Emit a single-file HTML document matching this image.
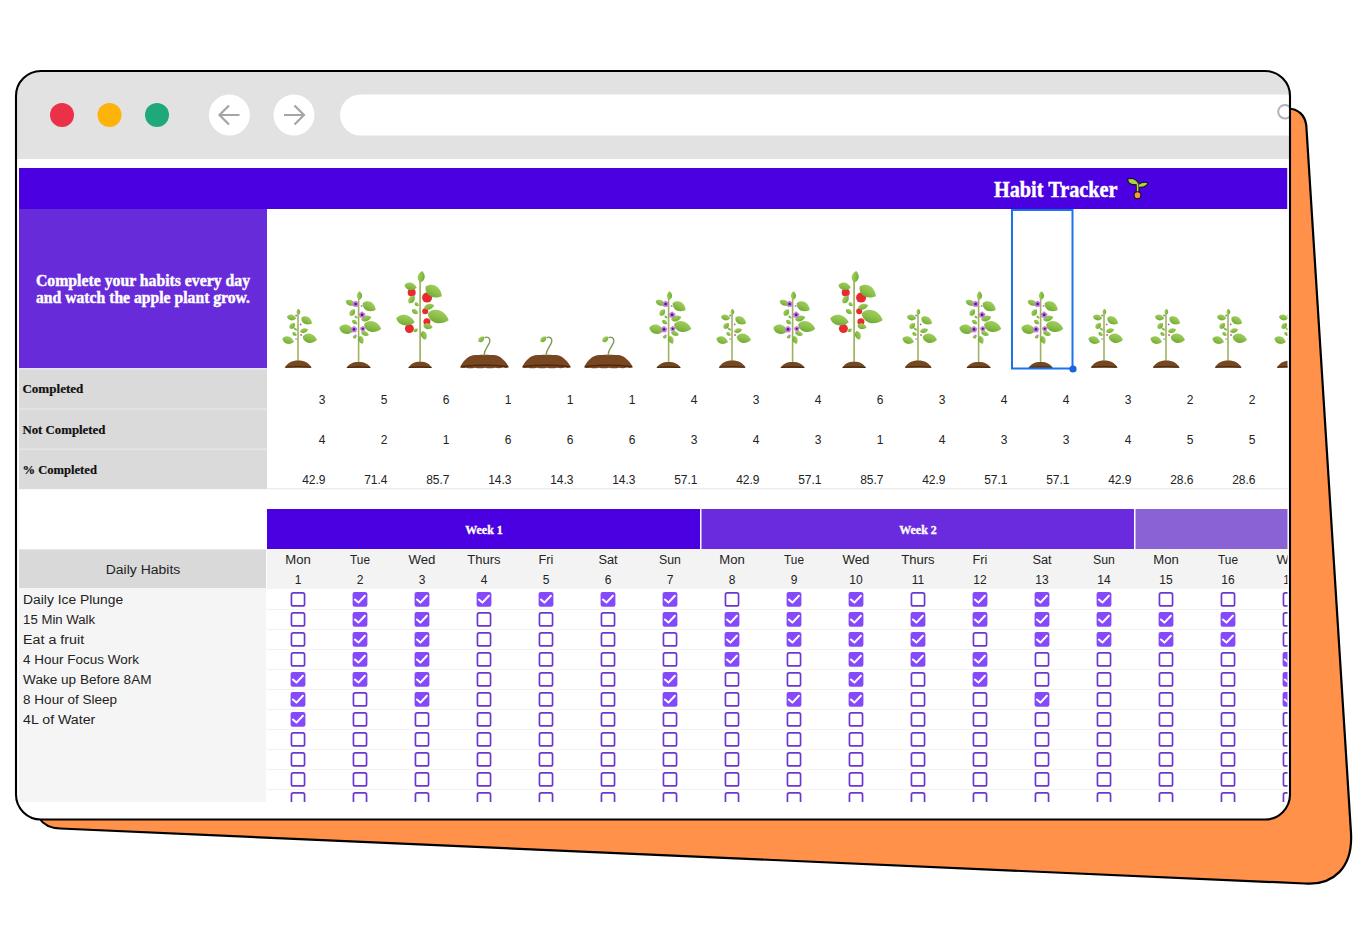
<!DOCTYPE html>
<html><head><meta charset="utf-8"><title>Habit Tracker</title>
<style>
html,body{margin:0;padding:0;background:#fff;}
body{width:1366px;height:950px;overflow:hidden;position:relative;}
svg{position:absolute;left:0;top:0;display:block;}
</style></head>
<body>
<svg width="1366" height="950" viewBox="0 0 1366 950">
<path d="M1200 108.5L1288 108.5C1298 108.8 1305 115 1306.3 125.5L1351 833C1353 868 1333 885.5 1305 883.5L60 828.5C50 828 43 824 39.5 818.5L39 700Z" fill="#ff914b" stroke="#000" stroke-width="2.2" stroke-linejoin="round"/>
<defs><clipPath id="fclip"><rect x="17" y="72" width="1272" height="746.5" rx="24"/></clipPath><clipPath id="cclip"><rect x="19" y="168" width="1268.5" height="634"/></clipPath><linearGradient id="lg" x1="0" y1="0" x2="0" y2="1"><stop offset="0" stop-color="#9fcd5c"/><stop offset="0.5" stop-color="#8cc04a"/><stop offset="1" stop-color="#72a936"/></linearGradient></defs>
<rect x="16" y="71" width="1274" height="748.5" rx="25" fill="#fff"/>
<g clip-path="url(#fclip)">
<rect x="17" y="72" width="1272" height="87" fill="#e2e2e2"/>
<circle cx="62" cy="115" r="12" fill="#ea3148"/>
<circle cx="109.5" cy="115" r="12" fill="#fdb309"/>
<circle cx="157" cy="115" r="12" fill="#1fa97b"/>
<circle cx="229.4" cy="115" r="20.5" fill="#fff"/>
<circle cx="294" cy="115" r="20.5" fill="#fff"/>
<path d="M239.5 115H219.5M229 105.5L219.5 115L229 124.5" stroke="#a5a5a5" stroke-width="2.2" fill="none"/>
<path d="M284 115H304M294.5 105.5L304 115L294.5 124.5" stroke="#a5a5a5" stroke-width="2.2" fill="none"/>
<rect x="340" y="94.5" width="1000" height="41" rx="20.5" fill="#fff"/>
<circle cx="1285" cy="111.7" r="6.8" stroke="#b3b3b3" stroke-width="2" fill="none"/>
</g>
<g clip-path="url(#cclip)">
<rect x="19" y="168" width="1268.5" height="41" fill="#4a00e0"/>
<text x="994" y="197" font-family="'Liberation Serif', 'DejaVu Serif', serif" font-weight="bold" font-size="22.5" fill="#fff" stroke="#fff" stroke-width="0.45" textLength="123.5" lengthAdjust="spacingAndGlyphs">Habit Tracker</text>
<g stroke="#1d0b2e" stroke-width="1.1" stroke-linejoin="round"><path d="M1137.5 183.5C1137.6 187 1137.8 189.5 1137.5 193" stroke-width="3.6" fill="none"/><path d="M1127.3 179.2C1131 177.9 1135.3 178.4 1137.9 182.2L1138.2 184.6C1134.5 185 1130.3 184.3 1128.6 182.3Z" fill="#a6d63c"/><path d="M1138.2 184.6C1140.8 182.6 1144.6 181.8 1148.1 182.7C1147.4 185.4 1144.9 187.2 1140.6 187.4L1138.2 187.2Z" fill="#a6d63c"/><path d="M1137.5 183.5C1137.6 187 1137.8 189.5 1137.5 193" stroke="#b5dd45" stroke-width="1.6" fill="none"/><circle cx="1137.5" cy="195.2" r="3.4" fill="#f39a36"/></g>
<rect x="19" y="209" width="248" height="160" fill="#672bda"/>
<text x="143" y="285.5" text-anchor="middle" font-family="'Liberation Serif', 'DejaVu Serif', serif" font-weight="bold" font-size="17" fill="#fff" stroke="#fff" stroke-width="0.45" textLength="214" lengthAdjust="spacingAndGlyphs">Complete your habits every day</text>
<text x="143" y="302.9" text-anchor="middle" font-family="'Liberation Serif', 'DejaVu Serif', serif" font-weight="bold" font-size="17" fill="#fff" stroke="#fff" stroke-width="0.45" textLength="214" lengthAdjust="spacingAndGlyphs">and watch the apple plant grow.</text>
<defs><g id="pA"><line x1="31" y1="104" x2="31" y2="152" stroke="#9db35e" stroke-width="1.6"/><path d="M-1 0C-0.65 -0.78 0.4 -0.8 1 0C0.4 0.8 -0.65 0.78 -1 0Z" fill="url(#lg)" transform="translate(31.4 102.8) rotate(-90) scale(3.04 3.15)"/><path d="M-1 0C-0.65 -0.78 0.4 -0.8 1 0C0.4 0.8 -0.65 0.78 -1 0Z" fill="url(#lg)" transform="translate(24.6 108.6) rotate(12) scale(4.73 4.91)"/><path d="M-1 0C-0.65 -0.78 0.4 -0.8 1 0C0.4 0.8 -0.65 0.78 -1 0Z" fill="url(#lg)" transform="translate(39.7 111.6) rotate(28) scale(6.04 6.39)"/><path d="M-1 0C-0.65 -0.78 0.4 -0.8 1 0C0.4 0.8 -0.65 0.78 -1 0Z" fill="url(#lg)" transform="translate(25.3 116.8) rotate(-50) scale(3.68 4.42)"/><path d="M-1 0C-0.65 -0.78 0.4 -0.8 1 0C0.4 0.8 -0.65 0.78 -1 0Z" fill="url(#lg)" transform="translate(28.6 120.2) rotate(35) scale(2.10 1.97)"/><path d="M-1 0C-0.65 -0.78 0.4 -0.8 1 0C0.4 0.8 -0.65 0.78 -1 0Z" fill="url(#lg)" transform="translate(37.1 121.7) rotate(-15) scale(4.20 3.93)"/><path d="M-1 0C-0.65 -0.78 0.4 -0.8 1 0C0.4 0.8 -0.65 0.78 -1 0Z" fill="url(#lg)" transform="translate(27.6 125.1) rotate(35) scale(2.62 2.95)"/><path d="M-1 0C-0.65 -0.78 0.4 -0.8 1 0C0.4 0.8 -0.65 0.78 -1 0Z" fill="url(#lg)" transform="translate(21.2 131.2) rotate(18) scale(6.04 6.39)"/><path d="M-1 0C-0.65 -0.78 0.4 -0.8 1 0C0.4 0.8 -0.65 0.78 -1 0Z" fill="url(#lg)" transform="translate(42.8 129.3) rotate(13) scale(7.35 7.86)"/><circle cx="29.1" cy="106.5" r="0.9" fill="#9a6ab8"/><circle cx="33.7" cy="115.4" r="0.9" fill="#9a6ab8"/><circle cx="34.1" cy="126" r="1.1" fill="#e06a9a"/><circle cx="29.1" cy="130" r="0.8" fill="#9a6ab8"/><path d="M17.7 158.8C20.9 153.8 24.4 151.6 31.2 151.6C38.0 151.6 41.5 153.8 44.7 158.8Z" fill="#764820"/><path d="M18.5 158.20000000000002Q31.2 157.20000000000002 43.9 158.20000000000002" stroke="#4a2a10" stroke-width="1.2" fill="none"/></g><g id="pB"><line x1="29.6" y1="89" x2="29.6" y2="153" stroke="#9db35e" stroke-width="1.6"/><path d="M-1 0C-0.65 -0.78 0.4 -0.8 1 0C0.4 0.8 -0.65 0.78 -1 0Z" fill="url(#lg)" transform="translate(30.5 86.5) rotate(-90) scale(4.20 4.42)"/><path d="M-1 0C-0.65 -0.78 0.4 -0.8 1 0C0.4 0.8 -0.65 0.78 -1 0Z" fill="url(#lg)" transform="translate(21.6 93.9) rotate(20) scale(5.25 4.91)"/><path d="M-1 0C-0.65 -0.78 0.4 -0.8 1 0C0.4 0.8 -0.65 0.78 -1 0Z" fill="url(#lg)" transform="translate(40.2 97.5) rotate(28) scale(7.35 7.86)"/><path d="M-1 0C-0.65 -0.78 0.4 -0.8 1 0C0.4 0.8 -0.65 0.78 -1 0Z" fill="url(#lg)" transform="translate(23.4 103.5) rotate(-55) scale(3.94 4.42)"/><path d="M-1 0C-0.65 -0.78 0.4 -0.8 1 0C0.4 0.8 -0.65 0.78 -1 0Z" fill="url(#lg)" transform="translate(27.1 108) rotate(40) scale(2.10 1.97)"/><path d="M-1 0C-0.65 -0.78 0.4 -0.8 1 0C0.4 0.8 -0.65 0.78 -1 0Z" fill="url(#lg)" transform="translate(37.2 109.4) rotate(-15) scale(5.25 4.91)"/><path d="M-1 0C-0.65 -0.78 0.4 -0.8 1 0C0.4 0.8 -0.65 0.78 -1 0Z" fill="url(#lg)" transform="translate(25.7 113.1) rotate(35) scale(3.15 3.44)"/><path d="M-1 0C-0.65 -0.78 0.4 -0.8 1 0C0.4 0.8 -0.65 0.78 -1 0Z" fill="url(#lg)" transform="translate(17.5 120.4) rotate(12) scale(7.35 7.86)"/><path d="M-1 0C-0.65 -0.78 0.4 -0.8 1 0C0.4 0.8 -0.65 0.78 -1 0Z" fill="url(#lg)" transform="translate(43.6 117.7) rotate(15) scale(8.93 8.85)"/><path d="M-1 0C-0.65 -0.78 0.4 -0.8 1 0C0.4 0.8 -0.65 0.78 -1 0Z" fill="url(#lg)" transform="translate(36 124.5) rotate(20) scale(4.20 3.93)"/><path d="M-1 0C-0.65 -0.78 0.4 -0.8 1 0C0.4 0.8 -0.65 0.78 -1 0Z" fill="url(#lg)" transform="translate(25.7 127.8) rotate(-30) scale(2.10 2.95)"/><path d="M-1 0C-0.65 -0.78 0.4 -0.8 1 0C0.4 0.8 -0.65 0.78 -1 0Z" fill="url(#lg)" transform="translate(32.1 131) rotate(70) scale(4.20 4.42)"/><circle cx="26.60" cy="93.35" r="1.65" fill="#c77be0"/><circle cx="28.17" cy="94.49" r="1.65" fill="#c77be0"/><circle cx="27.57" cy="96.33" r="1.65" fill="#c77be0"/><circle cx="25.63" cy="96.33" r="1.65" fill="#c77be0"/><circle cx="25.03" cy="94.49" r="1.65" fill="#c77be0"/><circle cx="26.6" cy="95" r="1.35" fill="#4b1d6e"/><circle cx="33.10" cy="104.15" r="1.65" fill="#c77be0"/><circle cx="34.67" cy="105.29" r="1.65" fill="#c77be0"/><circle cx="34.07" cy="107.13" r="1.65" fill="#c77be0"/><circle cx="32.13" cy="107.13" r="1.65" fill="#c77be0"/><circle cx="31.53" cy="105.29" r="1.65" fill="#c77be0"/><circle cx="33.1" cy="105.8" r="1.35" fill="#4b1d6e"/><circle cx="25.00" cy="118.75" r="1.65" fill="#c77be0"/><circle cx="26.57" cy="119.89" r="1.65" fill="#c77be0"/><circle cx="25.97" cy="121.73" r="1.65" fill="#c77be0"/><circle cx="24.03" cy="121.73" r="1.65" fill="#c77be0"/><circle cx="23.43" cy="119.89" r="1.65" fill="#c77be0"/><circle cx="25" cy="120.4" r="1.35" fill="#4b1d6e"/><circle cx="33.80" cy="118.42" r="1.38" fill="#c77be0"/><circle cx="35.11" cy="119.38" r="1.38" fill="#c77be0"/><circle cx="34.61" cy="120.91" r="1.38" fill="#c77be0"/><circle cx="32.99" cy="120.91" r="1.38" fill="#c77be0"/><circle cx="32.49" cy="119.38" r="1.38" fill="#c77be0"/><circle cx="33.8" cy="119.8" r="1.12" fill="#4b1d6e"/><circle cx="32.6" cy="96.9" r="1" fill="#c77be0"/><circle cx="26.6" cy="126.4" r="1" fill="#c77be0"/><path d="M17.4 159C20.3 154.8 23.5 153 29.6 153C35.7 153 38.9 154.8 41.9 159Z" fill="#764820"/><path d="M18.2 158.4Q29.6 157.4 41.1 158.4" stroke="#4a2a10" stroke-width="1.2" fill="none"/></g><g id="pC"><line x1="29.1" y1="72" x2="29.1" y2="154" stroke="#9db35e" stroke-width="1.7"/><circle cx="20.7" cy="83.6" r="4" fill="#e9282f"/><circle cx="36.1" cy="88.6" r="5" fill="#e9282f"/><circle cx="34.2" cy="102.2" r="3" fill="#e9282f"/><circle cx="35.9" cy="112.8" r="3.5" fill="#e9282f"/><circle cx="18.4" cy="119.6" r="4.5" fill="#e9282f"/><path d="M-1 0C-0.65 -0.78 0.4 -0.8 1 0C0.4 0.8 -0.65 0.78 -1 0Z" fill="url(#lg)" transform="translate(30.3 67.8) rotate(-80) scale(5.78 5.90)"/><path d="M-1 0C-0.65 -0.78 0.4 -0.8 1 0C0.4 0.8 -0.65 0.78 -1 0Z" fill="url(#lg)" transform="translate(19.6 77.4) rotate(12) scale(6.30 6.39)"/><path d="M-1 0C-0.65 -0.78 0.4 -0.8 1 0C0.4 0.8 -0.65 0.78 -1 0Z" fill="url(#lg)" transform="translate(42.7 82.5) rotate(30) scale(9.45 9.83)"/><path d="M-1 0C-0.65 -0.78 0.4 -0.8 1 0C0.4 0.8 -0.65 0.78 -1 0Z" fill="url(#lg)" transform="translate(20.7 90.3) rotate(-55) scale(4.73 4.91)"/><path d="M-1 0C-0.65 -0.78 0.4 -0.8 1 0C0.4 0.8 -0.65 0.78 -1 0Z" fill="url(#lg)" transform="translate(25.8 95.4) rotate(40) scale(2.62 2.95)"/><path d="M-1 0C-0.65 -0.78 0.4 -0.8 1 0C0.4 0.8 -0.65 0.78 -1 0Z" fill="url(#lg)" transform="translate(38.1 97.7) rotate(-15) scale(5.25 4.91)"/><path d="M-1 0C-0.65 -0.78 0.4 -0.8 1 0C0.4 0.8 -0.65 0.78 -1 0Z" fill="url(#lg)" transform="translate(24 102.7) rotate(35) scale(3.68 3.93)"/><path d="M-1 0C-0.65 -0.78 0.4 -0.8 1 0C0.4 0.8 -0.65 0.78 -1 0Z" fill="url(#lg)" transform="translate(14.5 111.2) rotate(12) scale(9.45 8.85)"/><path d="M-1 0C-0.65 -0.78 0.4 -0.8 1 0C0.4 0.8 -0.65 0.78 -1 0Z" fill="url(#lg)" transform="translate(47.2 107.8) rotate(18) scale(11.03 10.81)"/><path d="M-1 0C-0.65 -0.78 0.4 -0.8 1 0C0.4 0.8 -0.65 0.78 -1 0Z" fill="url(#lg)" transform="translate(37 117.4) rotate(15) scale(4.73 4.91)"/><path d="M-1 0C-0.65 -0.78 0.4 -0.8 1 0C0.4 0.8 -0.65 0.78 -1 0Z" fill="url(#lg)" transform="translate(24.6 121.3) rotate(-30) scale(2.62 2.95)"/><path d="M-1 0C-0.65 -0.78 0.4 -0.8 1 0C0.4 0.8 -0.65 0.78 -1 0Z" fill="url(#lg)" transform="translate(33 126.4) rotate(70) scale(4.73 4.91)"/><path d="M17.1 159C20.0 154.7 23.1 152.8 29.1 152.8C35.1 152.8 38.2 154.7 41.1 159Z" fill="#764820"/><path d="M17.9 158.4Q29.1 157.4 40.3 158.4" stroke="#4a2a10" stroke-width="1.2" fill="none"/></g><g id="pD"><path d="M7 158.2C10 153 13 148 20 146.3C26 145.6 37 145.6 43 146.3C49 148 53 153 56 158.2Q53 159.6 50 158.6Q46 159.8 42 158.8Q37 159.8 32 158.8Q27 159.8 22 158.8Q17 159.8 13 158.8Q10 159.6 7 158.2Z" fill="#784722"/><path d="M8 157.6Q31 155 55 157.6" stroke="#4e2711" stroke-width="1.4" fill="none"/><path d="M31 146.5C31.3 141.5 33 139.5 35 136.5C37.6 132.8 37.2 129.6 35.3 128.6C34 127.9 32.6 128.1 31.6 128.9" stroke="#7d9852" stroke-width="1.4" fill="none"/><path d="M-1 0C-0.65 -0.78 0.4 -0.8 1 0C0.4 0.8 -0.65 0.78 -1 0Z" fill="url(#lg)" transform="translate(28.4 130.3) rotate(-42) scale(3.78 4.13)"/></g></defs>
<use href="#pA" x="267" y="209"/>
<use href="#pB" x="329" y="209"/>
<use href="#pC" x="391" y="209"/>
<use href="#pD" x="453" y="209"/>
<use href="#pD" x="515" y="209"/>
<use href="#pD" x="577" y="209"/>
<use href="#pB" x="639" y="209"/>
<use href="#pA" x="701" y="209"/>
<use href="#pB" x="763" y="209"/>
<use href="#pC" x="825" y="209"/>
<use href="#pA" x="887" y="209"/>
<use href="#pB" x="949" y="209"/>
<use href="#pB" x="1011" y="209"/>
<use href="#pA" x="1073" y="209"/>
<use href="#pA" x="1135" y="209"/>
<use href="#pA" x="1197" y="209"/>
<use href="#pA" x="1259" y="209"/>
<rect x="1012" y="210" width="60.5" height="158.5" fill="none" stroke="#1a73e8" stroke-width="2"/>
<circle cx="1073" cy="369" r="3.6" fill="#1a62e0"/>
<rect x="19" y="368.2" width="248" height="121" fill="#dadada"/>
<rect x="19" y="368.2" width="248" height="1.2" fill="#f4eefc"/>
<rect x="19" y="408.4" width="248" height="1.2" fill="#e9e9e9"/>
<rect x="19" y="448.6" width="248" height="1.2" fill="#e9e9e9"/>
<text x="22.4" y="393.4" font-family="'Liberation Serif', 'DejaVu Serif', serif" font-weight="bold" font-size="13" fill="#111" stroke="#111" stroke-width="0.2" textLength="61" lengthAdjust="spacingAndGlyphs">Completed</text>
<text x="22.4" y="433.6" font-family="'Liberation Serif', 'DejaVu Serif', serif" font-weight="bold" font-size="13" fill="#111" stroke="#111" stroke-width="0.2" textLength="83" lengthAdjust="spacingAndGlyphs">Not Completed</text>
<text x="22.4" y="473.8" font-family="'Liberation Serif', 'DejaVu Serif', serif" font-weight="bold" font-size="13" fill="#111" stroke="#111" stroke-width="0.2" textLength="74.5" lengthAdjust="spacingAndGlyphs">% Completed</text>
<rect x="267" y="488.3" width="1021" height="1" fill="#e6e6e6"/>
<text x="325.5" y="404" text-anchor="end" font-family="'Liberation Sans', 'DejaVu Sans', sans-serif" font-size="12" fill="#222">3</text>
<text x="325.5" y="444" text-anchor="end" font-family="'Liberation Sans', 'DejaVu Sans', sans-serif" font-size="12" fill="#222">4</text>
<text x="325.5" y="484" text-anchor="end" font-family="'Liberation Sans', 'DejaVu Sans', sans-serif" font-size="12" fill="#222">42.9</text>
<text x="387.5" y="404" text-anchor="end" font-family="'Liberation Sans', 'DejaVu Sans', sans-serif" font-size="12" fill="#222">5</text>
<text x="387.5" y="444" text-anchor="end" font-family="'Liberation Sans', 'DejaVu Sans', sans-serif" font-size="12" fill="#222">2</text>
<text x="387.5" y="484" text-anchor="end" font-family="'Liberation Sans', 'DejaVu Sans', sans-serif" font-size="12" fill="#222">71.4</text>
<text x="449.5" y="404" text-anchor="end" font-family="'Liberation Sans', 'DejaVu Sans', sans-serif" font-size="12" fill="#222">6</text>
<text x="449.5" y="444" text-anchor="end" font-family="'Liberation Sans', 'DejaVu Sans', sans-serif" font-size="12" fill="#222">1</text>
<text x="449.5" y="484" text-anchor="end" font-family="'Liberation Sans', 'DejaVu Sans', sans-serif" font-size="12" fill="#222">85.7</text>
<text x="511.5" y="404" text-anchor="end" font-family="'Liberation Sans', 'DejaVu Sans', sans-serif" font-size="12" fill="#222">1</text>
<text x="511.5" y="444" text-anchor="end" font-family="'Liberation Sans', 'DejaVu Sans', sans-serif" font-size="12" fill="#222">6</text>
<text x="511.5" y="484" text-anchor="end" font-family="'Liberation Sans', 'DejaVu Sans', sans-serif" font-size="12" fill="#222">14.3</text>
<text x="573.5" y="404" text-anchor="end" font-family="'Liberation Sans', 'DejaVu Sans', sans-serif" font-size="12" fill="#222">1</text>
<text x="573.5" y="444" text-anchor="end" font-family="'Liberation Sans', 'DejaVu Sans', sans-serif" font-size="12" fill="#222">6</text>
<text x="573.5" y="484" text-anchor="end" font-family="'Liberation Sans', 'DejaVu Sans', sans-serif" font-size="12" fill="#222">14.3</text>
<text x="635.5" y="404" text-anchor="end" font-family="'Liberation Sans', 'DejaVu Sans', sans-serif" font-size="12" fill="#222">1</text>
<text x="635.5" y="444" text-anchor="end" font-family="'Liberation Sans', 'DejaVu Sans', sans-serif" font-size="12" fill="#222">6</text>
<text x="635.5" y="484" text-anchor="end" font-family="'Liberation Sans', 'DejaVu Sans', sans-serif" font-size="12" fill="#222">14.3</text>
<text x="697.5" y="404" text-anchor="end" font-family="'Liberation Sans', 'DejaVu Sans', sans-serif" font-size="12" fill="#222">4</text>
<text x="697.5" y="444" text-anchor="end" font-family="'Liberation Sans', 'DejaVu Sans', sans-serif" font-size="12" fill="#222">3</text>
<text x="697.5" y="484" text-anchor="end" font-family="'Liberation Sans', 'DejaVu Sans', sans-serif" font-size="12" fill="#222">57.1</text>
<text x="759.5" y="404" text-anchor="end" font-family="'Liberation Sans', 'DejaVu Sans', sans-serif" font-size="12" fill="#222">3</text>
<text x="759.5" y="444" text-anchor="end" font-family="'Liberation Sans', 'DejaVu Sans', sans-serif" font-size="12" fill="#222">4</text>
<text x="759.5" y="484" text-anchor="end" font-family="'Liberation Sans', 'DejaVu Sans', sans-serif" font-size="12" fill="#222">42.9</text>
<text x="821.5" y="404" text-anchor="end" font-family="'Liberation Sans', 'DejaVu Sans', sans-serif" font-size="12" fill="#222">4</text>
<text x="821.5" y="444" text-anchor="end" font-family="'Liberation Sans', 'DejaVu Sans', sans-serif" font-size="12" fill="#222">3</text>
<text x="821.5" y="484" text-anchor="end" font-family="'Liberation Sans', 'DejaVu Sans', sans-serif" font-size="12" fill="#222">57.1</text>
<text x="883.5" y="404" text-anchor="end" font-family="'Liberation Sans', 'DejaVu Sans', sans-serif" font-size="12" fill="#222">6</text>
<text x="883.5" y="444" text-anchor="end" font-family="'Liberation Sans', 'DejaVu Sans', sans-serif" font-size="12" fill="#222">1</text>
<text x="883.5" y="484" text-anchor="end" font-family="'Liberation Sans', 'DejaVu Sans', sans-serif" font-size="12" fill="#222">85.7</text>
<text x="945.5" y="404" text-anchor="end" font-family="'Liberation Sans', 'DejaVu Sans', sans-serif" font-size="12" fill="#222">3</text>
<text x="945.5" y="444" text-anchor="end" font-family="'Liberation Sans', 'DejaVu Sans', sans-serif" font-size="12" fill="#222">4</text>
<text x="945.5" y="484" text-anchor="end" font-family="'Liberation Sans', 'DejaVu Sans', sans-serif" font-size="12" fill="#222">42.9</text>
<text x="1007.5" y="404" text-anchor="end" font-family="'Liberation Sans', 'DejaVu Sans', sans-serif" font-size="12" fill="#222">4</text>
<text x="1007.5" y="444" text-anchor="end" font-family="'Liberation Sans', 'DejaVu Sans', sans-serif" font-size="12" fill="#222">3</text>
<text x="1007.5" y="484" text-anchor="end" font-family="'Liberation Sans', 'DejaVu Sans', sans-serif" font-size="12" fill="#222">57.1</text>
<text x="1069.5" y="404" text-anchor="end" font-family="'Liberation Sans', 'DejaVu Sans', sans-serif" font-size="12" fill="#222">4</text>
<text x="1069.5" y="444" text-anchor="end" font-family="'Liberation Sans', 'DejaVu Sans', sans-serif" font-size="12" fill="#222">3</text>
<text x="1069.5" y="484" text-anchor="end" font-family="'Liberation Sans', 'DejaVu Sans', sans-serif" font-size="12" fill="#222">57.1</text>
<text x="1131.5" y="404" text-anchor="end" font-family="'Liberation Sans', 'DejaVu Sans', sans-serif" font-size="12" fill="#222">3</text>
<text x="1131.5" y="444" text-anchor="end" font-family="'Liberation Sans', 'DejaVu Sans', sans-serif" font-size="12" fill="#222">4</text>
<text x="1131.5" y="484" text-anchor="end" font-family="'Liberation Sans', 'DejaVu Sans', sans-serif" font-size="12" fill="#222">42.9</text>
<text x="1193.5" y="404" text-anchor="end" font-family="'Liberation Sans', 'DejaVu Sans', sans-serif" font-size="12" fill="#222">2</text>
<text x="1193.5" y="444" text-anchor="end" font-family="'Liberation Sans', 'DejaVu Sans', sans-serif" font-size="12" fill="#222">5</text>
<text x="1193.5" y="484" text-anchor="end" font-family="'Liberation Sans', 'DejaVu Sans', sans-serif" font-size="12" fill="#222">28.6</text>
<text x="1255.5" y="404" text-anchor="end" font-family="'Liberation Sans', 'DejaVu Sans', sans-serif" font-size="12" fill="#222">2</text>
<text x="1255.5" y="444" text-anchor="end" font-family="'Liberation Sans', 'DejaVu Sans', sans-serif" font-size="12" fill="#222">5</text>
<text x="1255.5" y="484" text-anchor="end" font-family="'Liberation Sans', 'DejaVu Sans', sans-serif" font-size="12" fill="#222">28.6</text>
<text x="1317.5" y="404" text-anchor="end" font-family="'Liberation Sans', 'DejaVu Sans', sans-serif" font-size="12" fill="#222">3</text>
<text x="1317.5" y="444" text-anchor="end" font-family="'Liberation Sans', 'DejaVu Sans', sans-serif" font-size="12" fill="#222">4</text>
<text x="1317.5" y="484" text-anchor="end" font-family="'Liberation Sans', 'DejaVu Sans', sans-serif" font-size="12" fill="#222">42.9</text>
<rect x="267" y="509" width="433" height="40" fill="#4a00e0"/>
<rect x="701.5" y="509" width="432.5" height="40" fill="#6a2bde"/>
<rect x="1135.5" y="509" width="160" height="40" fill="#8a62d6"/>
<text x="484" y="533.5" text-anchor="middle" font-family="'Liberation Serif', 'DejaVu Serif', serif" font-weight="bold" font-size="13" fill="#fff" stroke="#fff" stroke-width="0.35" textLength="37.5" lengthAdjust="spacingAndGlyphs">Week 1</text>
<text x="918" y="533.5" text-anchor="middle" font-family="'Liberation Serif', 'DejaVu Serif', serif" font-weight="bold" font-size="13" fill="#fff" stroke="#fff" stroke-width="0.35" textLength="37.5" lengthAdjust="spacingAndGlyphs">Week 2</text>
<rect x="19" y="549.4" width="247" height="38.6" fill="#d9d9d9"/>
<text x="143" y="573.8" text-anchor="middle" font-family="'Liberation Sans', 'DejaVu Sans', sans-serif" font-size="12" fill="#222" textLength="74.5" lengthAdjust="spacingAndGlyphs">Daily Habits</text>
<rect x="267" y="549" width="1021" height="40" fill="#f3f3f3"/>
<rect x="19" y="588" width="247" height="215" fill="#f5f5f5"/>
<text x="298" y="563.9" text-anchor="middle" font-family="'Liberation Sans', 'DejaVu Sans', sans-serif" font-size="12" fill="#222" textLength="25.5" lengthAdjust="spacingAndGlyphs">Mon</text>
<text x="298" y="584" text-anchor="middle" font-family="'Liberation Sans', 'DejaVu Sans', sans-serif" font-size="12" fill="#222">1</text>
<text x="360" y="563.9" text-anchor="middle" font-family="'Liberation Sans', 'DejaVu Sans', sans-serif" font-size="12" fill="#222" textLength="19.9" lengthAdjust="spacingAndGlyphs">Tue</text>
<text x="360" y="584" text-anchor="middle" font-family="'Liberation Sans', 'DejaVu Sans', sans-serif" font-size="12" fill="#222">2</text>
<text x="422" y="563.9" text-anchor="middle" font-family="'Liberation Sans', 'DejaVu Sans', sans-serif" font-size="12" fill="#222" textLength="27" lengthAdjust="spacingAndGlyphs">Wed</text>
<text x="422" y="584" text-anchor="middle" font-family="'Liberation Sans', 'DejaVu Sans', sans-serif" font-size="12" fill="#222">3</text>
<text x="484" y="563.9" text-anchor="middle" font-family="'Liberation Sans', 'DejaVu Sans', sans-serif" font-size="12" fill="#222" textLength="33.3" lengthAdjust="spacingAndGlyphs">Thurs</text>
<text x="484" y="584" text-anchor="middle" font-family="'Liberation Sans', 'DejaVu Sans', sans-serif" font-size="12" fill="#222">4</text>
<text x="546" y="563.9" text-anchor="middle" font-family="'Liberation Sans', 'DejaVu Sans', sans-serif" font-size="12" fill="#222" textLength="14.8" lengthAdjust="spacingAndGlyphs">Fri</text>
<text x="546" y="584" text-anchor="middle" font-family="'Liberation Sans', 'DejaVu Sans', sans-serif" font-size="12" fill="#222">5</text>
<text x="608" y="563.9" text-anchor="middle" font-family="'Liberation Sans', 'DejaVu Sans', sans-serif" font-size="12" fill="#222" textLength="19.2" lengthAdjust="spacingAndGlyphs">Sat</text>
<text x="608" y="584" text-anchor="middle" font-family="'Liberation Sans', 'DejaVu Sans', sans-serif" font-size="12" fill="#222">6</text>
<text x="670" y="563.9" text-anchor="middle" font-family="'Liberation Sans', 'DejaVu Sans', sans-serif" font-size="12" fill="#222" textLength="21.9" lengthAdjust="spacingAndGlyphs">Sun</text>
<text x="670" y="584" text-anchor="middle" font-family="'Liberation Sans', 'DejaVu Sans', sans-serif" font-size="12" fill="#222">7</text>
<text x="732" y="563.9" text-anchor="middle" font-family="'Liberation Sans', 'DejaVu Sans', sans-serif" font-size="12" fill="#222" textLength="25.5" lengthAdjust="spacingAndGlyphs">Mon</text>
<text x="732" y="584" text-anchor="middle" font-family="'Liberation Sans', 'DejaVu Sans', sans-serif" font-size="12" fill="#222">8</text>
<text x="794" y="563.9" text-anchor="middle" font-family="'Liberation Sans', 'DejaVu Sans', sans-serif" font-size="12" fill="#222" textLength="19.9" lengthAdjust="spacingAndGlyphs">Tue</text>
<text x="794" y="584" text-anchor="middle" font-family="'Liberation Sans', 'DejaVu Sans', sans-serif" font-size="12" fill="#222">9</text>
<text x="856" y="563.9" text-anchor="middle" font-family="'Liberation Sans', 'DejaVu Sans', sans-serif" font-size="12" fill="#222" textLength="27" lengthAdjust="spacingAndGlyphs">Wed</text>
<text x="856" y="584" text-anchor="middle" font-family="'Liberation Sans', 'DejaVu Sans', sans-serif" font-size="12" fill="#222">10</text>
<text x="918" y="563.9" text-anchor="middle" font-family="'Liberation Sans', 'DejaVu Sans', sans-serif" font-size="12" fill="#222" textLength="33.3" lengthAdjust="spacingAndGlyphs">Thurs</text>
<text x="918" y="584" text-anchor="middle" font-family="'Liberation Sans', 'DejaVu Sans', sans-serif" font-size="12" fill="#222">11</text>
<text x="980" y="563.9" text-anchor="middle" font-family="'Liberation Sans', 'DejaVu Sans', sans-serif" font-size="12" fill="#222" textLength="14.8" lengthAdjust="spacingAndGlyphs">Fri</text>
<text x="980" y="584" text-anchor="middle" font-family="'Liberation Sans', 'DejaVu Sans', sans-serif" font-size="12" fill="#222">12</text>
<text x="1042" y="563.9" text-anchor="middle" font-family="'Liberation Sans', 'DejaVu Sans', sans-serif" font-size="12" fill="#222" textLength="19.2" lengthAdjust="spacingAndGlyphs">Sat</text>
<text x="1042" y="584" text-anchor="middle" font-family="'Liberation Sans', 'DejaVu Sans', sans-serif" font-size="12" fill="#222">13</text>
<text x="1104" y="563.9" text-anchor="middle" font-family="'Liberation Sans', 'DejaVu Sans', sans-serif" font-size="12" fill="#222" textLength="21.9" lengthAdjust="spacingAndGlyphs">Sun</text>
<text x="1104" y="584" text-anchor="middle" font-family="'Liberation Sans', 'DejaVu Sans', sans-serif" font-size="12" fill="#222">14</text>
<text x="1166" y="563.9" text-anchor="middle" font-family="'Liberation Sans', 'DejaVu Sans', sans-serif" font-size="12" fill="#222" textLength="25.5" lengthAdjust="spacingAndGlyphs">Mon</text>
<text x="1166" y="584" text-anchor="middle" font-family="'Liberation Sans', 'DejaVu Sans', sans-serif" font-size="12" fill="#222">15</text>
<text x="1228" y="563.9" text-anchor="middle" font-family="'Liberation Sans', 'DejaVu Sans', sans-serif" font-size="12" fill="#222" textLength="19.9" lengthAdjust="spacingAndGlyphs">Tue</text>
<text x="1228" y="584" text-anchor="middle" font-family="'Liberation Sans', 'DejaVu Sans', sans-serif" font-size="12" fill="#222">16</text>
<text x="1290" y="563.9" text-anchor="middle" font-family="'Liberation Sans', 'DejaVu Sans', sans-serif" font-size="12" fill="#222" textLength="27" lengthAdjust="spacingAndGlyphs">Wed</text>
<text x="1290" y="584" text-anchor="middle" font-family="'Liberation Sans', 'DejaVu Sans', sans-serif" font-size="12" fill="#222">17</text>
<text x="23.1" y="603.8" font-family="'Liberation Sans', 'DejaVu Sans', sans-serif" font-size="12" fill="#222" textLength="100" lengthAdjust="spacingAndGlyphs">Daily Ice Plunge</text>
<text x="23.1" y="623.8" font-family="'Liberation Sans', 'DejaVu Sans', sans-serif" font-size="12" fill="#222" textLength="72" lengthAdjust="spacingAndGlyphs">15 Min Walk</text>
<text x="23.1" y="643.8" font-family="'Liberation Sans', 'DejaVu Sans', sans-serif" font-size="12" fill="#222" textLength="61" lengthAdjust="spacingAndGlyphs">Eat a fruit</text>
<text x="23.1" y="663.8" font-family="'Liberation Sans', 'DejaVu Sans', sans-serif" font-size="12" fill="#222" textLength="115.8" lengthAdjust="spacingAndGlyphs">4 Hour Focus Work</text>
<text x="23.1" y="683.8" font-family="'Liberation Sans', 'DejaVu Sans', sans-serif" font-size="12" fill="#222" textLength="128.4" lengthAdjust="spacingAndGlyphs">Wake up Before 8AM</text>
<text x="23.1" y="703.8" font-family="'Liberation Sans', 'DejaVu Sans', sans-serif" font-size="12" fill="#222" textLength="93.9" lengthAdjust="spacingAndGlyphs">8 Hour of Sleep</text>
<text x="23.1" y="723.8" font-family="'Liberation Sans', 'DejaVu Sans', sans-serif" font-size="12" fill="#222" textLength="72.2" lengthAdjust="spacingAndGlyphs">4L of Water</text>
<rect x="267" y="609" width="1021" height="1" fill="#f2f2f2"/>
<rect x="267" y="629" width="1021" height="1" fill="#f2f2f2"/>
<rect x="267" y="649" width="1021" height="1" fill="#f2f2f2"/>
<rect x="267" y="669" width="1021" height="1" fill="#f2f2f2"/>
<rect x="267" y="689" width="1021" height="1" fill="#f2f2f2"/>
<rect x="267" y="709" width="1021" height="1" fill="#f2f2f2"/>
<rect x="267" y="729" width="1021" height="1" fill="#f2f2f2"/>
<rect x="267" y="749" width="1021" height="1" fill="#f2f2f2"/>
<rect x="267" y="769" width="1021" height="1" fill="#f2f2f2"/>
<rect x="267" y="789" width="1021" height="1" fill="#f2f2f2"/>
<rect x="267" y="809" width="1021" height="1" fill="#f2f2f2"/>
<rect x="291.45" y="592.85" width="13.1" height="13.1" rx="1.8" fill="#fff" stroke="#6c37cf" stroke-width="1.7"/>
<rect x="352.6" y="592" width="14.8" height="14.8" rx="2.2" fill="#8549fb"/><path d="M354.9 599.6L358.4 602.6L364.9 595.8" stroke="#fff" stroke-width="2" fill="none" stroke-linecap="round" stroke-linejoin="round"/>
<rect x="414.6" y="592" width="14.8" height="14.8" rx="2.2" fill="#8549fb"/><path d="M416.9 599.6L420.4 602.6L426.9 595.8" stroke="#fff" stroke-width="2" fill="none" stroke-linecap="round" stroke-linejoin="round"/>
<rect x="476.6" y="592" width="14.8" height="14.8" rx="2.2" fill="#8549fb"/><path d="M478.9 599.6L482.4 602.6L488.9 595.8" stroke="#fff" stroke-width="2" fill="none" stroke-linecap="round" stroke-linejoin="round"/>
<rect x="538.6" y="592" width="14.8" height="14.8" rx="2.2" fill="#8549fb"/><path d="M540.9 599.6L544.4 602.6L550.9 595.8" stroke="#fff" stroke-width="2" fill="none" stroke-linecap="round" stroke-linejoin="round"/>
<rect x="600.6" y="592" width="14.8" height="14.8" rx="2.2" fill="#8549fb"/><path d="M602.9 599.6L606.4 602.6L612.9 595.8" stroke="#fff" stroke-width="2" fill="none" stroke-linecap="round" stroke-linejoin="round"/>
<rect x="662.6" y="592" width="14.8" height="14.8" rx="2.2" fill="#8549fb"/><path d="M664.9 599.6L668.4 602.6L674.9 595.8" stroke="#fff" stroke-width="2" fill="none" stroke-linecap="round" stroke-linejoin="round"/>
<rect x="725.45" y="592.85" width="13.1" height="13.1" rx="1.8" fill="#fff" stroke="#6c37cf" stroke-width="1.7"/>
<rect x="786.6" y="592" width="14.8" height="14.8" rx="2.2" fill="#8549fb"/><path d="M788.9 599.6L792.4 602.6L798.9 595.8" stroke="#fff" stroke-width="2" fill="none" stroke-linecap="round" stroke-linejoin="round"/>
<rect x="848.6" y="592" width="14.8" height="14.8" rx="2.2" fill="#8549fb"/><path d="M850.9 599.6L854.4 602.6L860.9 595.8" stroke="#fff" stroke-width="2" fill="none" stroke-linecap="round" stroke-linejoin="round"/>
<rect x="911.45" y="592.85" width="13.1" height="13.1" rx="1.8" fill="#fff" stroke="#6c37cf" stroke-width="1.7"/>
<rect x="972.6" y="592" width="14.8" height="14.8" rx="2.2" fill="#8549fb"/><path d="M974.9 599.6L978.4 602.6L984.9 595.8" stroke="#fff" stroke-width="2" fill="none" stroke-linecap="round" stroke-linejoin="round"/>
<rect x="1034.6" y="592" width="14.8" height="14.8" rx="2.2" fill="#8549fb"/><path d="M1036.9 599.6L1040.4 602.6L1046.9 595.8" stroke="#fff" stroke-width="2" fill="none" stroke-linecap="round" stroke-linejoin="round"/>
<rect x="1096.6" y="592" width="14.8" height="14.8" rx="2.2" fill="#8549fb"/><path d="M1098.9 599.6L1102.4 602.6L1108.9 595.8" stroke="#fff" stroke-width="2" fill="none" stroke-linecap="round" stroke-linejoin="round"/>
<rect x="1159.45" y="592.85" width="13.1" height="13.1" rx="1.8" fill="#fff" stroke="#6c37cf" stroke-width="1.7"/>
<rect x="1221.45" y="592.85" width="13.1" height="13.1" rx="1.8" fill="#fff" stroke="#6c37cf" stroke-width="1.7"/>
<rect x="1283.45" y="592.85" width="13.1" height="13.1" rx="1.8" fill="#fff" stroke="#6c37cf" stroke-width="1.7"/>
<rect x="291.45" y="612.85" width="13.1" height="13.1" rx="1.8" fill="#fff" stroke="#6c37cf" stroke-width="1.7"/>
<rect x="352.6" y="612" width="14.8" height="14.8" rx="2.2" fill="#8549fb"/><path d="M354.9 619.6L358.4 622.6L364.9 615.8" stroke="#fff" stroke-width="2" fill="none" stroke-linecap="round" stroke-linejoin="round"/>
<rect x="414.6" y="612" width="14.8" height="14.8" rx="2.2" fill="#8549fb"/><path d="M416.9 619.6L420.4 622.6L426.9 615.8" stroke="#fff" stroke-width="2" fill="none" stroke-linecap="round" stroke-linejoin="round"/>
<rect x="477.45" y="612.85" width="13.1" height="13.1" rx="1.8" fill="#fff" stroke="#6c37cf" stroke-width="1.7"/>
<rect x="539.45" y="612.85" width="13.1" height="13.1" rx="1.8" fill="#fff" stroke="#6c37cf" stroke-width="1.7"/>
<rect x="601.45" y="612.85" width="13.1" height="13.1" rx="1.8" fill="#fff" stroke="#6c37cf" stroke-width="1.7"/>
<rect x="662.6" y="612" width="14.8" height="14.8" rx="2.2" fill="#8549fb"/><path d="M664.9 619.6L668.4 622.6L674.9 615.8" stroke="#fff" stroke-width="2" fill="none" stroke-linecap="round" stroke-linejoin="round"/>
<rect x="724.6" y="612" width="14.8" height="14.8" rx="2.2" fill="#8549fb"/><path d="M726.9 619.6L730.4 622.6L736.9 615.8" stroke="#fff" stroke-width="2" fill="none" stroke-linecap="round" stroke-linejoin="round"/>
<rect x="786.6" y="612" width="14.8" height="14.8" rx="2.2" fill="#8549fb"/><path d="M788.9 619.6L792.4 622.6L798.9 615.8" stroke="#fff" stroke-width="2" fill="none" stroke-linecap="round" stroke-linejoin="round"/>
<rect x="848.6" y="612" width="14.8" height="14.8" rx="2.2" fill="#8549fb"/><path d="M850.9 619.6L854.4 622.6L860.9 615.8" stroke="#fff" stroke-width="2" fill="none" stroke-linecap="round" stroke-linejoin="round"/>
<rect x="910.6" y="612" width="14.8" height="14.8" rx="2.2" fill="#8549fb"/><path d="M912.9 619.6L916.4 622.6L922.9 615.8" stroke="#fff" stroke-width="2" fill="none" stroke-linecap="round" stroke-linejoin="round"/>
<rect x="972.6" y="612" width="14.8" height="14.8" rx="2.2" fill="#8549fb"/><path d="M974.9 619.6L978.4 622.6L984.9 615.8" stroke="#fff" stroke-width="2" fill="none" stroke-linecap="round" stroke-linejoin="round"/>
<rect x="1034.6" y="612" width="14.8" height="14.8" rx="2.2" fill="#8549fb"/><path d="M1036.9 619.6L1040.4 622.6L1046.9 615.8" stroke="#fff" stroke-width="2" fill="none" stroke-linecap="round" stroke-linejoin="round"/>
<rect x="1096.6" y="612" width="14.8" height="14.8" rx="2.2" fill="#8549fb"/><path d="M1098.9 619.6L1102.4 622.6L1108.9 615.8" stroke="#fff" stroke-width="2" fill="none" stroke-linecap="round" stroke-linejoin="round"/>
<rect x="1158.6" y="612" width="14.8" height="14.8" rx="2.2" fill="#8549fb"/><path d="M1160.9 619.6L1164.4 622.6L1170.9 615.8" stroke="#fff" stroke-width="2" fill="none" stroke-linecap="round" stroke-linejoin="round"/>
<rect x="1220.6" y="612" width="14.8" height="14.8" rx="2.2" fill="#8549fb"/><path d="M1222.9 619.6L1226.4 622.6L1232.9 615.8" stroke="#fff" stroke-width="2" fill="none" stroke-linecap="round" stroke-linejoin="round"/>
<rect x="1283.45" y="612.85" width="13.1" height="13.1" rx="1.8" fill="#fff" stroke="#6c37cf" stroke-width="1.7"/>
<rect x="291.45" y="632.85" width="13.1" height="13.1" rx="1.8" fill="#fff" stroke="#6c37cf" stroke-width="1.7"/>
<rect x="352.6" y="632" width="14.8" height="14.8" rx="2.2" fill="#8549fb"/><path d="M354.9 639.6L358.4 642.6L364.9 635.8" stroke="#fff" stroke-width="2" fill="none" stroke-linecap="round" stroke-linejoin="round"/>
<rect x="414.6" y="632" width="14.8" height="14.8" rx="2.2" fill="#8549fb"/><path d="M416.9 639.6L420.4 642.6L426.9 635.8" stroke="#fff" stroke-width="2" fill="none" stroke-linecap="round" stroke-linejoin="round"/>
<rect x="477.45" y="632.85" width="13.1" height="13.1" rx="1.8" fill="#fff" stroke="#6c37cf" stroke-width="1.7"/>
<rect x="539.45" y="632.85" width="13.1" height="13.1" rx="1.8" fill="#fff" stroke="#6c37cf" stroke-width="1.7"/>
<rect x="601.45" y="632.85" width="13.1" height="13.1" rx="1.8" fill="#fff" stroke="#6c37cf" stroke-width="1.7"/>
<rect x="663.45" y="632.85" width="13.1" height="13.1" rx="1.8" fill="#fff" stroke="#6c37cf" stroke-width="1.7"/>
<rect x="724.6" y="632" width="14.8" height="14.8" rx="2.2" fill="#8549fb"/><path d="M726.9 639.6L730.4 642.6L736.9 635.8" stroke="#fff" stroke-width="2" fill="none" stroke-linecap="round" stroke-linejoin="round"/>
<rect x="786.6" y="632" width="14.8" height="14.8" rx="2.2" fill="#8549fb"/><path d="M788.9 639.6L792.4 642.6L798.9 635.8" stroke="#fff" stroke-width="2" fill="none" stroke-linecap="round" stroke-linejoin="round"/>
<rect x="848.6" y="632" width="14.8" height="14.8" rx="2.2" fill="#8549fb"/><path d="M850.9 639.6L854.4 642.6L860.9 635.8" stroke="#fff" stroke-width="2" fill="none" stroke-linecap="round" stroke-linejoin="round"/>
<rect x="910.6" y="632" width="14.8" height="14.8" rx="2.2" fill="#8549fb"/><path d="M912.9 639.6L916.4 642.6L922.9 635.8" stroke="#fff" stroke-width="2" fill="none" stroke-linecap="round" stroke-linejoin="round"/>
<rect x="973.45" y="632.85" width="13.1" height="13.1" rx="1.8" fill="#fff" stroke="#6c37cf" stroke-width="1.7"/>
<rect x="1034.6" y="632" width="14.8" height="14.8" rx="2.2" fill="#8549fb"/><path d="M1036.9 639.6L1040.4 642.6L1046.9 635.8" stroke="#fff" stroke-width="2" fill="none" stroke-linecap="round" stroke-linejoin="round"/>
<rect x="1096.6" y="632" width="14.8" height="14.8" rx="2.2" fill="#8549fb"/><path d="M1098.9 639.6L1102.4 642.6L1108.9 635.8" stroke="#fff" stroke-width="2" fill="none" stroke-linecap="round" stroke-linejoin="round"/>
<rect x="1158.6" y="632" width="14.8" height="14.8" rx="2.2" fill="#8549fb"/><path d="M1160.9 639.6L1164.4 642.6L1170.9 635.8" stroke="#fff" stroke-width="2" fill="none" stroke-linecap="round" stroke-linejoin="round"/>
<rect x="1220.6" y="632" width="14.8" height="14.8" rx="2.2" fill="#8549fb"/><path d="M1222.9 639.6L1226.4 642.6L1232.9 635.8" stroke="#fff" stroke-width="2" fill="none" stroke-linecap="round" stroke-linejoin="round"/>
<rect x="1283.45" y="632.85" width="13.1" height="13.1" rx="1.8" fill="#fff" stroke="#6c37cf" stroke-width="1.7"/>
<rect x="291.45" y="652.85" width="13.1" height="13.1" rx="1.8" fill="#fff" stroke="#6c37cf" stroke-width="1.7"/>
<rect x="352.6" y="652" width="14.8" height="14.8" rx="2.2" fill="#8549fb"/><path d="M354.9 659.6L358.4 662.6L364.9 655.8" stroke="#fff" stroke-width="2" fill="none" stroke-linecap="round" stroke-linejoin="round"/>
<rect x="414.6" y="652" width="14.8" height="14.8" rx="2.2" fill="#8549fb"/><path d="M416.9 659.6L420.4 662.6L426.9 655.8" stroke="#fff" stroke-width="2" fill="none" stroke-linecap="round" stroke-linejoin="round"/>
<rect x="477.45" y="652.85" width="13.1" height="13.1" rx="1.8" fill="#fff" stroke="#6c37cf" stroke-width="1.7"/>
<rect x="539.45" y="652.85" width="13.1" height="13.1" rx="1.8" fill="#fff" stroke="#6c37cf" stroke-width="1.7"/>
<rect x="601.45" y="652.85" width="13.1" height="13.1" rx="1.8" fill="#fff" stroke="#6c37cf" stroke-width="1.7"/>
<rect x="663.45" y="652.85" width="13.1" height="13.1" rx="1.8" fill="#fff" stroke="#6c37cf" stroke-width="1.7"/>
<rect x="724.6" y="652" width="14.8" height="14.8" rx="2.2" fill="#8549fb"/><path d="M726.9 659.6L730.4 662.6L736.9 655.8" stroke="#fff" stroke-width="2" fill="none" stroke-linecap="round" stroke-linejoin="round"/>
<rect x="787.45" y="652.85" width="13.1" height="13.1" rx="1.8" fill="#fff" stroke="#6c37cf" stroke-width="1.7"/>
<rect x="848.6" y="652" width="14.8" height="14.8" rx="2.2" fill="#8549fb"/><path d="M850.9 659.6L854.4 662.6L860.9 655.8" stroke="#fff" stroke-width="2" fill="none" stroke-linecap="round" stroke-linejoin="round"/>
<rect x="910.6" y="652" width="14.8" height="14.8" rx="2.2" fill="#8549fb"/><path d="M912.9 659.6L916.4 662.6L922.9 655.8" stroke="#fff" stroke-width="2" fill="none" stroke-linecap="round" stroke-linejoin="round"/>
<rect x="972.6" y="652" width="14.8" height="14.8" rx="2.2" fill="#8549fb"/><path d="M974.9 659.6L978.4 662.6L984.9 655.8" stroke="#fff" stroke-width="2" fill="none" stroke-linecap="round" stroke-linejoin="round"/>
<rect x="1035.45" y="652.85" width="13.1" height="13.1" rx="1.8" fill="#fff" stroke="#6c37cf" stroke-width="1.7"/>
<rect x="1097.45" y="652.85" width="13.1" height="13.1" rx="1.8" fill="#fff" stroke="#6c37cf" stroke-width="1.7"/>
<rect x="1159.45" y="652.85" width="13.1" height="13.1" rx="1.8" fill="#fff" stroke="#6c37cf" stroke-width="1.7"/>
<rect x="1221.45" y="652.85" width="13.1" height="13.1" rx="1.8" fill="#fff" stroke="#6c37cf" stroke-width="1.7"/>
<rect x="1282.6" y="652" width="14.8" height="14.8" rx="2.2" fill="#8549fb"/><path d="M1284.9 659.6L1288.4 662.6L1294.9 655.8" stroke="#fff" stroke-width="2" fill="none" stroke-linecap="round" stroke-linejoin="round"/>
<rect x="290.6" y="672" width="14.8" height="14.8" rx="2.2" fill="#8549fb"/><path d="M292.9 679.6L296.4 682.6L302.9 675.8" stroke="#fff" stroke-width="2" fill="none" stroke-linecap="round" stroke-linejoin="round"/>
<rect x="352.6" y="672" width="14.8" height="14.8" rx="2.2" fill="#8549fb"/><path d="M354.9 679.6L358.4 682.6L364.9 675.8" stroke="#fff" stroke-width="2" fill="none" stroke-linecap="round" stroke-linejoin="round"/>
<rect x="414.6" y="672" width="14.8" height="14.8" rx="2.2" fill="#8549fb"/><path d="M416.9 679.6L420.4 682.6L426.9 675.8" stroke="#fff" stroke-width="2" fill="none" stroke-linecap="round" stroke-linejoin="round"/>
<rect x="477.45" y="672.85" width="13.1" height="13.1" rx="1.8" fill="#fff" stroke="#6c37cf" stroke-width="1.7"/>
<rect x="539.45" y="672.85" width="13.1" height="13.1" rx="1.8" fill="#fff" stroke="#6c37cf" stroke-width="1.7"/>
<rect x="601.45" y="672.85" width="13.1" height="13.1" rx="1.8" fill="#fff" stroke="#6c37cf" stroke-width="1.7"/>
<rect x="662.6" y="672" width="14.8" height="14.8" rx="2.2" fill="#8549fb"/><path d="M664.9 679.6L668.4 682.6L674.9 675.8" stroke="#fff" stroke-width="2" fill="none" stroke-linecap="round" stroke-linejoin="round"/>
<rect x="725.45" y="672.85" width="13.1" height="13.1" rx="1.8" fill="#fff" stroke="#6c37cf" stroke-width="1.7"/>
<rect x="787.45" y="672.85" width="13.1" height="13.1" rx="1.8" fill="#fff" stroke="#6c37cf" stroke-width="1.7"/>
<rect x="848.6" y="672" width="14.8" height="14.8" rx="2.2" fill="#8549fb"/><path d="M850.9 679.6L854.4 682.6L860.9 675.8" stroke="#fff" stroke-width="2" fill="none" stroke-linecap="round" stroke-linejoin="round"/>
<rect x="911.45" y="672.85" width="13.1" height="13.1" rx="1.8" fill="#fff" stroke="#6c37cf" stroke-width="1.7"/>
<rect x="972.6" y="672" width="14.8" height="14.8" rx="2.2" fill="#8549fb"/><path d="M974.9 679.6L978.4 682.6L984.9 675.8" stroke="#fff" stroke-width="2" fill="none" stroke-linecap="round" stroke-linejoin="round"/>
<rect x="1035.45" y="672.85" width="13.1" height="13.1" rx="1.8" fill="#fff" stroke="#6c37cf" stroke-width="1.7"/>
<rect x="1097.45" y="672.85" width="13.1" height="13.1" rx="1.8" fill="#fff" stroke="#6c37cf" stroke-width="1.7"/>
<rect x="1159.45" y="672.85" width="13.1" height="13.1" rx="1.8" fill="#fff" stroke="#6c37cf" stroke-width="1.7"/>
<rect x="1221.45" y="672.85" width="13.1" height="13.1" rx="1.8" fill="#fff" stroke="#6c37cf" stroke-width="1.7"/>
<rect x="1282.6" y="672" width="14.8" height="14.8" rx="2.2" fill="#8549fb"/><path d="M1284.9 679.6L1288.4 682.6L1294.9 675.8" stroke="#fff" stroke-width="2" fill="none" stroke-linecap="round" stroke-linejoin="round"/>
<rect x="290.6" y="692" width="14.8" height="14.8" rx="2.2" fill="#8549fb"/><path d="M292.9 699.6L296.4 702.6L302.9 695.8" stroke="#fff" stroke-width="2" fill="none" stroke-linecap="round" stroke-linejoin="round"/>
<rect x="353.45" y="692.85" width="13.1" height="13.1" rx="1.8" fill="#fff" stroke="#6c37cf" stroke-width="1.7"/>
<rect x="414.6" y="692" width="14.8" height="14.8" rx="2.2" fill="#8549fb"/><path d="M416.9 699.6L420.4 702.6L426.9 695.8" stroke="#fff" stroke-width="2" fill="none" stroke-linecap="round" stroke-linejoin="round"/>
<rect x="477.45" y="692.85" width="13.1" height="13.1" rx="1.8" fill="#fff" stroke="#6c37cf" stroke-width="1.7"/>
<rect x="539.45" y="692.85" width="13.1" height="13.1" rx="1.8" fill="#fff" stroke="#6c37cf" stroke-width="1.7"/>
<rect x="601.45" y="692.85" width="13.1" height="13.1" rx="1.8" fill="#fff" stroke="#6c37cf" stroke-width="1.7"/>
<rect x="662.6" y="692" width="14.8" height="14.8" rx="2.2" fill="#8549fb"/><path d="M664.9 699.6L668.4 702.6L674.9 695.8" stroke="#fff" stroke-width="2" fill="none" stroke-linecap="round" stroke-linejoin="round"/>
<rect x="725.45" y="692.85" width="13.1" height="13.1" rx="1.8" fill="#fff" stroke="#6c37cf" stroke-width="1.7"/>
<rect x="786.6" y="692" width="14.8" height="14.8" rx="2.2" fill="#8549fb"/><path d="M788.9 699.6L792.4 702.6L798.9 695.8" stroke="#fff" stroke-width="2" fill="none" stroke-linecap="round" stroke-linejoin="round"/>
<rect x="848.6" y="692" width="14.8" height="14.8" rx="2.2" fill="#8549fb"/><path d="M850.9 699.6L854.4 702.6L860.9 695.8" stroke="#fff" stroke-width="2" fill="none" stroke-linecap="round" stroke-linejoin="round"/>
<rect x="911.45" y="692.85" width="13.1" height="13.1" rx="1.8" fill="#fff" stroke="#6c37cf" stroke-width="1.7"/>
<rect x="973.45" y="692.85" width="13.1" height="13.1" rx="1.8" fill="#fff" stroke="#6c37cf" stroke-width="1.7"/>
<rect x="1034.6" y="692" width="14.8" height="14.8" rx="2.2" fill="#8549fb"/><path d="M1036.9 699.6L1040.4 702.6L1046.9 695.8" stroke="#fff" stroke-width="2" fill="none" stroke-linecap="round" stroke-linejoin="round"/>
<rect x="1097.45" y="692.85" width="13.1" height="13.1" rx="1.8" fill="#fff" stroke="#6c37cf" stroke-width="1.7"/>
<rect x="1159.45" y="692.85" width="13.1" height="13.1" rx="1.8" fill="#fff" stroke="#6c37cf" stroke-width="1.7"/>
<rect x="1221.45" y="692.85" width="13.1" height="13.1" rx="1.8" fill="#fff" stroke="#6c37cf" stroke-width="1.7"/>
<rect x="1282.6" y="692" width="14.8" height="14.8" rx="2.2" fill="#8549fb"/><path d="M1284.9 699.6L1288.4 702.6L1294.9 695.8" stroke="#fff" stroke-width="2" fill="none" stroke-linecap="round" stroke-linejoin="round"/>
<rect x="290.6" y="712" width="14.8" height="14.8" rx="2.2" fill="#8549fb"/><path d="M292.9 719.6L296.4 722.6L302.9 715.8" stroke="#fff" stroke-width="2" fill="none" stroke-linecap="round" stroke-linejoin="round"/>
<rect x="353.45" y="712.85" width="13.1" height="13.1" rx="1.8" fill="#fff" stroke="#6c37cf" stroke-width="1.7"/>
<rect x="415.45" y="712.85" width="13.1" height="13.1" rx="1.8" fill="#fff" stroke="#6c37cf" stroke-width="1.7"/>
<rect x="477.45" y="712.85" width="13.1" height="13.1" rx="1.8" fill="#fff" stroke="#6c37cf" stroke-width="1.7"/>
<rect x="539.45" y="712.85" width="13.1" height="13.1" rx="1.8" fill="#fff" stroke="#6c37cf" stroke-width="1.7"/>
<rect x="601.45" y="712.85" width="13.1" height="13.1" rx="1.8" fill="#fff" stroke="#6c37cf" stroke-width="1.7"/>
<rect x="663.45" y="712.85" width="13.1" height="13.1" rx="1.8" fill="#fff" stroke="#6c37cf" stroke-width="1.7"/>
<rect x="725.45" y="712.85" width="13.1" height="13.1" rx="1.8" fill="#fff" stroke="#6c37cf" stroke-width="1.7"/>
<rect x="787.45" y="712.85" width="13.1" height="13.1" rx="1.8" fill="#fff" stroke="#6c37cf" stroke-width="1.7"/>
<rect x="849.45" y="712.85" width="13.1" height="13.1" rx="1.8" fill="#fff" stroke="#6c37cf" stroke-width="1.7"/>
<rect x="911.45" y="712.85" width="13.1" height="13.1" rx="1.8" fill="#fff" stroke="#6c37cf" stroke-width="1.7"/>
<rect x="973.45" y="712.85" width="13.1" height="13.1" rx="1.8" fill="#fff" stroke="#6c37cf" stroke-width="1.7"/>
<rect x="1035.45" y="712.85" width="13.1" height="13.1" rx="1.8" fill="#fff" stroke="#6c37cf" stroke-width="1.7"/>
<rect x="1097.45" y="712.85" width="13.1" height="13.1" rx="1.8" fill="#fff" stroke="#6c37cf" stroke-width="1.7"/>
<rect x="1159.45" y="712.85" width="13.1" height="13.1" rx="1.8" fill="#fff" stroke="#6c37cf" stroke-width="1.7"/>
<rect x="1221.45" y="712.85" width="13.1" height="13.1" rx="1.8" fill="#fff" stroke="#6c37cf" stroke-width="1.7"/>
<rect x="1283.45" y="712.85" width="13.1" height="13.1" rx="1.8" fill="#fff" stroke="#6c37cf" stroke-width="1.7"/>
<rect x="291.45" y="732.85" width="13.1" height="13.1" rx="1.8" fill="#fff" stroke="#6c37cf" stroke-width="1.7"/>
<rect x="353.45" y="732.85" width="13.1" height="13.1" rx="1.8" fill="#fff" stroke="#6c37cf" stroke-width="1.7"/>
<rect x="415.45" y="732.85" width="13.1" height="13.1" rx="1.8" fill="#fff" stroke="#6c37cf" stroke-width="1.7"/>
<rect x="477.45" y="732.85" width="13.1" height="13.1" rx="1.8" fill="#fff" stroke="#6c37cf" stroke-width="1.7"/>
<rect x="539.45" y="732.85" width="13.1" height="13.1" rx="1.8" fill="#fff" stroke="#6c37cf" stroke-width="1.7"/>
<rect x="601.45" y="732.85" width="13.1" height="13.1" rx="1.8" fill="#fff" stroke="#6c37cf" stroke-width="1.7"/>
<rect x="663.45" y="732.85" width="13.1" height="13.1" rx="1.8" fill="#fff" stroke="#6c37cf" stroke-width="1.7"/>
<rect x="725.45" y="732.85" width="13.1" height="13.1" rx="1.8" fill="#fff" stroke="#6c37cf" stroke-width="1.7"/>
<rect x="787.45" y="732.85" width="13.1" height="13.1" rx="1.8" fill="#fff" stroke="#6c37cf" stroke-width="1.7"/>
<rect x="849.45" y="732.85" width="13.1" height="13.1" rx="1.8" fill="#fff" stroke="#6c37cf" stroke-width="1.7"/>
<rect x="911.45" y="732.85" width="13.1" height="13.1" rx="1.8" fill="#fff" stroke="#6c37cf" stroke-width="1.7"/>
<rect x="973.45" y="732.85" width="13.1" height="13.1" rx="1.8" fill="#fff" stroke="#6c37cf" stroke-width="1.7"/>
<rect x="1035.45" y="732.85" width="13.1" height="13.1" rx="1.8" fill="#fff" stroke="#6c37cf" stroke-width="1.7"/>
<rect x="1097.45" y="732.85" width="13.1" height="13.1" rx="1.8" fill="#fff" stroke="#6c37cf" stroke-width="1.7"/>
<rect x="1159.45" y="732.85" width="13.1" height="13.1" rx="1.8" fill="#fff" stroke="#6c37cf" stroke-width="1.7"/>
<rect x="1221.45" y="732.85" width="13.1" height="13.1" rx="1.8" fill="#fff" stroke="#6c37cf" stroke-width="1.7"/>
<rect x="1283.45" y="732.85" width="13.1" height="13.1" rx="1.8" fill="#fff" stroke="#6c37cf" stroke-width="1.7"/>
<rect x="291.45" y="752.85" width="13.1" height="13.1" rx="1.8" fill="#fff" stroke="#6c37cf" stroke-width="1.7"/>
<rect x="353.45" y="752.85" width="13.1" height="13.1" rx="1.8" fill="#fff" stroke="#6c37cf" stroke-width="1.7"/>
<rect x="415.45" y="752.85" width="13.1" height="13.1" rx="1.8" fill="#fff" stroke="#6c37cf" stroke-width="1.7"/>
<rect x="477.45" y="752.85" width="13.1" height="13.1" rx="1.8" fill="#fff" stroke="#6c37cf" stroke-width="1.7"/>
<rect x="539.45" y="752.85" width="13.1" height="13.1" rx="1.8" fill="#fff" stroke="#6c37cf" stroke-width="1.7"/>
<rect x="601.45" y="752.85" width="13.1" height="13.1" rx="1.8" fill="#fff" stroke="#6c37cf" stroke-width="1.7"/>
<rect x="663.45" y="752.85" width="13.1" height="13.1" rx="1.8" fill="#fff" stroke="#6c37cf" stroke-width="1.7"/>
<rect x="725.45" y="752.85" width="13.1" height="13.1" rx="1.8" fill="#fff" stroke="#6c37cf" stroke-width="1.7"/>
<rect x="787.45" y="752.85" width="13.1" height="13.1" rx="1.8" fill="#fff" stroke="#6c37cf" stroke-width="1.7"/>
<rect x="849.45" y="752.85" width="13.1" height="13.1" rx="1.8" fill="#fff" stroke="#6c37cf" stroke-width="1.7"/>
<rect x="911.45" y="752.85" width="13.1" height="13.1" rx="1.8" fill="#fff" stroke="#6c37cf" stroke-width="1.7"/>
<rect x="973.45" y="752.85" width="13.1" height="13.1" rx="1.8" fill="#fff" stroke="#6c37cf" stroke-width="1.7"/>
<rect x="1035.45" y="752.85" width="13.1" height="13.1" rx="1.8" fill="#fff" stroke="#6c37cf" stroke-width="1.7"/>
<rect x="1097.45" y="752.85" width="13.1" height="13.1" rx="1.8" fill="#fff" stroke="#6c37cf" stroke-width="1.7"/>
<rect x="1159.45" y="752.85" width="13.1" height="13.1" rx="1.8" fill="#fff" stroke="#6c37cf" stroke-width="1.7"/>
<rect x="1221.45" y="752.85" width="13.1" height="13.1" rx="1.8" fill="#fff" stroke="#6c37cf" stroke-width="1.7"/>
<rect x="1283.45" y="752.85" width="13.1" height="13.1" rx="1.8" fill="#fff" stroke="#6c37cf" stroke-width="1.7"/>
<rect x="291.45" y="772.85" width="13.1" height="13.1" rx="1.8" fill="#fff" stroke="#6c37cf" stroke-width="1.7"/>
<rect x="353.45" y="772.85" width="13.1" height="13.1" rx="1.8" fill="#fff" stroke="#6c37cf" stroke-width="1.7"/>
<rect x="415.45" y="772.85" width="13.1" height="13.1" rx="1.8" fill="#fff" stroke="#6c37cf" stroke-width="1.7"/>
<rect x="477.45" y="772.85" width="13.1" height="13.1" rx="1.8" fill="#fff" stroke="#6c37cf" stroke-width="1.7"/>
<rect x="539.45" y="772.85" width="13.1" height="13.1" rx="1.8" fill="#fff" stroke="#6c37cf" stroke-width="1.7"/>
<rect x="601.45" y="772.85" width="13.1" height="13.1" rx="1.8" fill="#fff" stroke="#6c37cf" stroke-width="1.7"/>
<rect x="663.45" y="772.85" width="13.1" height="13.1" rx="1.8" fill="#fff" stroke="#6c37cf" stroke-width="1.7"/>
<rect x="725.45" y="772.85" width="13.1" height="13.1" rx="1.8" fill="#fff" stroke="#6c37cf" stroke-width="1.7"/>
<rect x="787.45" y="772.85" width="13.1" height="13.1" rx="1.8" fill="#fff" stroke="#6c37cf" stroke-width="1.7"/>
<rect x="849.45" y="772.85" width="13.1" height="13.1" rx="1.8" fill="#fff" stroke="#6c37cf" stroke-width="1.7"/>
<rect x="911.45" y="772.85" width="13.1" height="13.1" rx="1.8" fill="#fff" stroke="#6c37cf" stroke-width="1.7"/>
<rect x="973.45" y="772.85" width="13.1" height="13.1" rx="1.8" fill="#fff" stroke="#6c37cf" stroke-width="1.7"/>
<rect x="1035.45" y="772.85" width="13.1" height="13.1" rx="1.8" fill="#fff" stroke="#6c37cf" stroke-width="1.7"/>
<rect x="1097.45" y="772.85" width="13.1" height="13.1" rx="1.8" fill="#fff" stroke="#6c37cf" stroke-width="1.7"/>
<rect x="1159.45" y="772.85" width="13.1" height="13.1" rx="1.8" fill="#fff" stroke="#6c37cf" stroke-width="1.7"/>
<rect x="1221.45" y="772.85" width="13.1" height="13.1" rx="1.8" fill="#fff" stroke="#6c37cf" stroke-width="1.7"/>
<rect x="1283.45" y="772.85" width="13.1" height="13.1" rx="1.8" fill="#fff" stroke="#6c37cf" stroke-width="1.7"/>
<rect x="291.45" y="792.85" width="13.1" height="13.1" rx="1.8" fill="#fff" stroke="#6c37cf" stroke-width="1.7"/>
<rect x="353.45" y="792.85" width="13.1" height="13.1" rx="1.8" fill="#fff" stroke="#6c37cf" stroke-width="1.7"/>
<rect x="415.45" y="792.85" width="13.1" height="13.1" rx="1.8" fill="#fff" stroke="#6c37cf" stroke-width="1.7"/>
<rect x="477.45" y="792.85" width="13.1" height="13.1" rx="1.8" fill="#fff" stroke="#6c37cf" stroke-width="1.7"/>
<rect x="539.45" y="792.85" width="13.1" height="13.1" rx="1.8" fill="#fff" stroke="#6c37cf" stroke-width="1.7"/>
<rect x="601.45" y="792.85" width="13.1" height="13.1" rx="1.8" fill="#fff" stroke="#6c37cf" stroke-width="1.7"/>
<rect x="663.45" y="792.85" width="13.1" height="13.1" rx="1.8" fill="#fff" stroke="#6c37cf" stroke-width="1.7"/>
<rect x="725.45" y="792.85" width="13.1" height="13.1" rx="1.8" fill="#fff" stroke="#6c37cf" stroke-width="1.7"/>
<rect x="787.45" y="792.85" width="13.1" height="13.1" rx="1.8" fill="#fff" stroke="#6c37cf" stroke-width="1.7"/>
<rect x="849.45" y="792.85" width="13.1" height="13.1" rx="1.8" fill="#fff" stroke="#6c37cf" stroke-width="1.7"/>
<rect x="911.45" y="792.85" width="13.1" height="13.1" rx="1.8" fill="#fff" stroke="#6c37cf" stroke-width="1.7"/>
<rect x="973.45" y="792.85" width="13.1" height="13.1" rx="1.8" fill="#fff" stroke="#6c37cf" stroke-width="1.7"/>
<rect x="1035.45" y="792.85" width="13.1" height="13.1" rx="1.8" fill="#fff" stroke="#6c37cf" stroke-width="1.7"/>
<rect x="1097.45" y="792.85" width="13.1" height="13.1" rx="1.8" fill="#fff" stroke="#6c37cf" stroke-width="1.7"/>
<rect x="1159.45" y="792.85" width="13.1" height="13.1" rx="1.8" fill="#fff" stroke="#6c37cf" stroke-width="1.7"/>
<rect x="1221.45" y="792.85" width="13.1" height="13.1" rx="1.8" fill="#fff" stroke="#6c37cf" stroke-width="1.7"/>
<rect x="1283.45" y="792.85" width="13.1" height="13.1" rx="1.8" fill="#fff" stroke="#6c37cf" stroke-width="1.7"/>
<rect x="291.45" y="812.85" width="13.1" height="13.1" rx="1.8" fill="#fff" stroke="#6c37cf" stroke-width="1.7"/>
<rect x="353.45" y="812.85" width="13.1" height="13.1" rx="1.8" fill="#fff" stroke="#6c37cf" stroke-width="1.7"/>
<rect x="415.45" y="812.85" width="13.1" height="13.1" rx="1.8" fill="#fff" stroke="#6c37cf" stroke-width="1.7"/>
<rect x="477.45" y="812.85" width="13.1" height="13.1" rx="1.8" fill="#fff" stroke="#6c37cf" stroke-width="1.7"/>
<rect x="539.45" y="812.85" width="13.1" height="13.1" rx="1.8" fill="#fff" stroke="#6c37cf" stroke-width="1.7"/>
<rect x="601.45" y="812.85" width="13.1" height="13.1" rx="1.8" fill="#fff" stroke="#6c37cf" stroke-width="1.7"/>
<rect x="663.45" y="812.85" width="13.1" height="13.1" rx="1.8" fill="#fff" stroke="#6c37cf" stroke-width="1.7"/>
<rect x="725.45" y="812.85" width="13.1" height="13.1" rx="1.8" fill="#fff" stroke="#6c37cf" stroke-width="1.7"/>
<rect x="787.45" y="812.85" width="13.1" height="13.1" rx="1.8" fill="#fff" stroke="#6c37cf" stroke-width="1.7"/>
<rect x="849.45" y="812.85" width="13.1" height="13.1" rx="1.8" fill="#fff" stroke="#6c37cf" stroke-width="1.7"/>
<rect x="911.45" y="812.85" width="13.1" height="13.1" rx="1.8" fill="#fff" stroke="#6c37cf" stroke-width="1.7"/>
<rect x="973.45" y="812.85" width="13.1" height="13.1" rx="1.8" fill="#fff" stroke="#6c37cf" stroke-width="1.7"/>
<rect x="1035.45" y="812.85" width="13.1" height="13.1" rx="1.8" fill="#fff" stroke="#6c37cf" stroke-width="1.7"/>
<rect x="1097.45" y="812.85" width="13.1" height="13.1" rx="1.8" fill="#fff" stroke="#6c37cf" stroke-width="1.7"/>
<rect x="1159.45" y="812.85" width="13.1" height="13.1" rx="1.8" fill="#fff" stroke="#6c37cf" stroke-width="1.7"/>
<rect x="1221.45" y="812.85" width="13.1" height="13.1" rx="1.8" fill="#fff" stroke="#6c37cf" stroke-width="1.7"/>
<rect x="1283.45" y="812.85" width="13.1" height="13.1" rx="1.8" fill="#fff" stroke="#6c37cf" stroke-width="1.7"/>
</g>
<rect x="16" y="71" width="1274" height="748.5" rx="25" fill="none" stroke="#000" stroke-width="2.1"/>
</svg>
</body></html>
